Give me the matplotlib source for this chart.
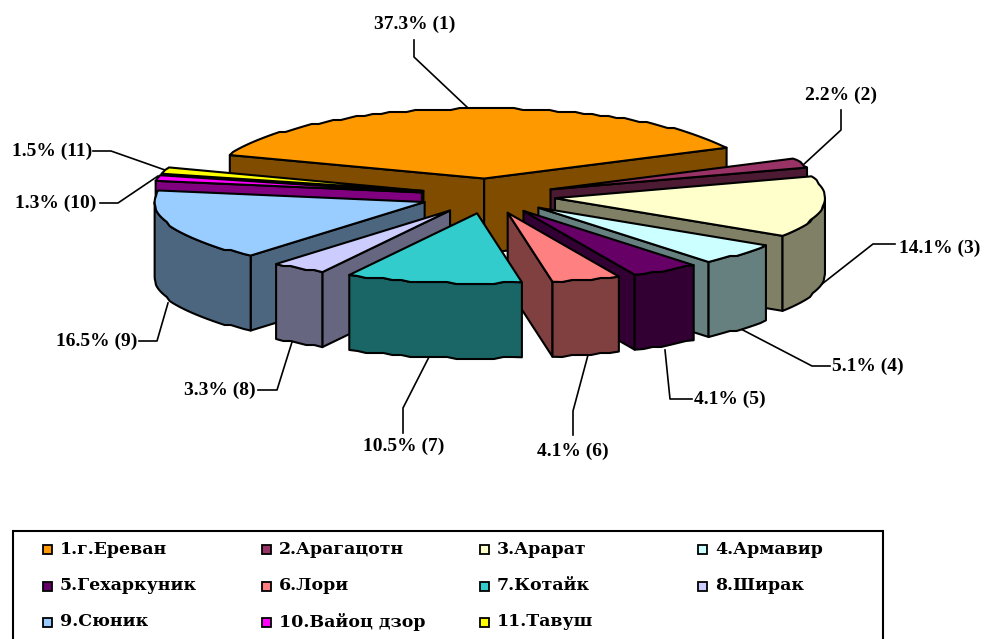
import numpy as np
import matplotlib
matplotlib.use('Agg')
import matplotlib.pyplot as plt
from matplotlib.patches import Polygon, Rectangle

regions = ['1.г.Ереван', '2.Арагацотн', '3.Арарат', '4.Армавир',
           '5.Гехаркуник', '6.Лори', '7.Котайк', '8.Ширак',
           '9.Сюник', '10.Вайоц дзор', '11.Тавуш']
shares = [37.3, 2.2, 14.1, 5.1, 4.1, 4.1, 10.5, 3.3, 16.5, 1.3, 1.5]
colors = ['#FF9900', '#993366', '#FFFFCC', '#CCFFFF', '#660066', '#FF8080',
          '#33CCCC', '#CCCCFF', '#99CCFF', '#FF00FF', '#FFFF00']

# pie geometry, in pixels of the axes below
CX, CY = 488, 196
RX, RY = 270, 70
DEPTH = 75
EXPLODE = 0.25
START = 160.4

# label centre and leader line for each slice
label_pos = [(415, 24), (841, 95), (940, 248), (868, 366), (730, 399), (573, 451),
             (404, 446), (220, 390), (97, 341), (56, 203), (52, 151)]
leaders = [
    [(414, 40), (414, 57), (468, 108)],
    [(841, 110), (841, 130), (802, 166)],
    [(895, 244), (873, 244), (822, 284)],
    [(830, 366), (812, 366), (739, 328)],
    [(692, 399), (670, 399), (665, 350)],
    [(573, 435), (573, 411), (588, 355)],
    [(403, 433), (403, 408), (430, 355)],
    [(258, 390), (277, 390), (292, 342)],
    [(139, 341), (157, 341), (168, 303)],
    [(100, 203), (118, 203), (158, 176)],
    [(93, 151), (111, 151), (165, 170)],
]


def shade(color):
    return tuple(c * 0.5 for c in matplotlib.colors.to_rgb(color))


def arc(tip, a1, a2):
    # outer edge from a1 to a2 (degrees), a bit rough like the source picture
    length = np.radians(abs(a1 - a2)) * RX
    n = max(2, int(length / 9) + 1)
    ang = np.radians(np.linspace(a1, a2, n))
    xs = tip[0] + RX * np.cos(ang)
    ys = tip[1] - RY * np.sin(ang)
    ys[1:-1] = np.round(ys[1:-1] / 2) * 2
    pts = np.column_stack([xs, ys])
    return pts


fig = plt.figure(figsize=(9.84, 6.39), dpi=100)
ax = fig.add_axes([0, 0, 1, 1])
ax.set_xlim(0, 984)
ax.set_ylim(639, 0)
ax.axis('off')

edges = START - np.cumsum([0] + [s * 3.6 for s in shares])
mids = (edges[:-1] + edges[1:]) / 2
order = np.argsort(-np.sin(np.radians(mids)))

for z, i in enumerate(order):
    a1, a2, mid = edges[i], edges[i + 1], np.radians(mids[i])
    tip = (CX + EXPLODE * RX * np.cos(mid), CY - EXPLODE * RY * np.sin(mid))
    top = arc(tip, a1, a2)
    side = shade(colors[i])
    style = dict(edgecolor='black', linewidth=1.5, joinstyle='round')

    # radial walls that face the viewer
    for ang, visible in ((a1, np.cos(np.radians(a1)) < 0), (a2, np.cos(np.radians(a2)) > 0)):
        if visible:
            p = top[0] if ang == a1 else top[-1]
            ax.add_patch(Polygon([tip, p, (p[0], p[1] + DEPTH), (tip[0], tip[1] + DEPTH)],
                                 facecolor=side, zorder=2 + z, **style))

    # outer wall, front half of the ellipse only
    lo, hi = max(a2, -180), min(a1, 0)
    if hi > lo:
        wall = arc(tip, hi, lo)
        poly = np.vstack([wall, (wall + [0, DEPTH])[::-1]])
        ax.add_patch(Polygon(poly, facecolor=side, zorder=2 + z, **style))

    ax.add_patch(Polygon(np.vstack([[tip], top]), facecolor=colors[i], zorder=2 + z, **style))

for i, (x, y) in enumerate(label_pos):
    ax.text(x, y, f'{shares[i]}% ({i + 1})', ha='center', va='center', color='black',
            fontsize=14, fontweight='bold', family='Liberation Serif', zorder=40)
    ax.plot(*zip(*leaders[i]), color='black', linewidth=1.2, zorder=1)

# legend box runs off the bottom of the picture
ax.add_patch(Rectangle((13, 531), 870, 130, facecolor='white', edgecolor='black',
                       linewidth=1.5, zorder=30, clip_on=True))
col_x = [47, 266, 484, 702]
row_y = [549, 586, 622]
for i, name in enumerate(regions):
    x, y = col_x[i % 4], row_y[i // 4]
    ax.add_patch(Rectangle((x - 4.5, y - 4.5), 9, 9, facecolor=colors[i], edgecolor='black',
                           linewidth=1.3, zorder=31))
    ax.text(x + 13, y, name, ha='left', va='center', color='black', fontsize=12.5,
            fontweight='bold', family='DejaVu Serif', zorder=31)

fig.savefig('out.png', dpi=100, facecolor='white')
